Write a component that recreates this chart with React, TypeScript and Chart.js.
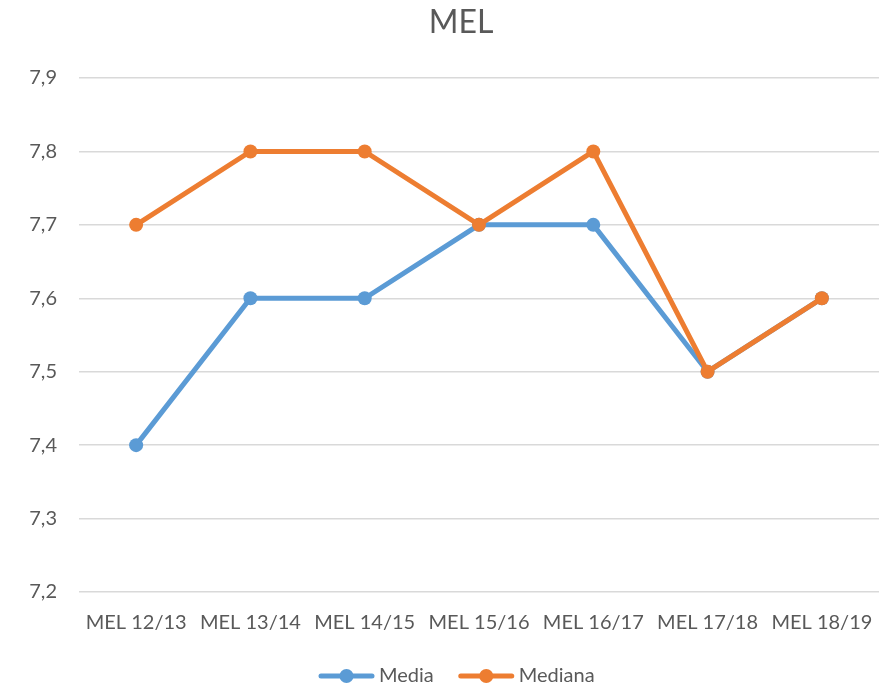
import React, { useEffect, useRef } from "react";
import { Chart, registerables } from "chart.js";

Chart.register(...registerables);

const categories = ["MEL 12/13", "MEL 13/14", "MEL 14/15", "MEL 15/16", "MEL 16/17", "MEL 17/18", "MEL 18/19"];
const mediaValues = [7.4, 7.6, 7.6, 7.7, 7.7, 7.5, 7.6];
const medianaValues = [7.7, 7.8, 7.8, 7.7, 7.8, 7.5, 7.6];
const yMin = 7.2;
const yMax = 7.9;
const yStep = 0.1;
const titleText = "MEL";

const BLUE = "#5B9BD5";
const ORANGE = "#ED7D31";
const TEXT = "#595959";
const FONT = "Lato, 'Open Sans', sans-serif";

const decorations = {
  id: "decorations",
  afterDraw(chart: any) {
    const ctx = chart.ctx;
    ctx.save();
    // title
    ctx.font = `32px ${FONT}`;
    ctx.fillStyle = TEXT;
    ctx.textAlign = "center";
    ctx.textBaseline = "middle";
    ctx.fillText(titleText, 461, 23);
    // legend
    const items = chart.data.datasets.map((ds: any) => ({ text: ds.label, color: ds.borderColor }));
    ctx.font = `20px ${FONT}`;
    const iconW = 55;
    const gapText = 5;
    const gapItem = 25;
    let x = 319;
    const y = 676;
    items.forEach((it: any) => {
      ctx.strokeStyle = it.color;
      ctx.lineWidth = 5;
      ctx.lineCap = "round";
      ctx.beginPath();
      ctx.moveTo(x + 2, y);
      ctx.lineTo(x + iconW - 2, y);
      ctx.stroke();
      ctx.fillStyle = it.color;
      ctx.beginPath();
      ctx.arc(x + iconW / 2, y, 7, 0, Math.PI * 2);
      ctx.fill();
      x += iconW + gapText;
      ctx.fillStyle = TEXT;
      ctx.textBaseline = "middle";
      ctx.textAlign = "left";
      ctx.fillText(it.text, x, y);
      x += ctx.measureText(it.text).width + gapItem;
    });
    ctx.restore();
  },
};

export default function App() {
  const ref = useRef<HTMLCanvasElement>(null);
  useEffect(() => {
    if (!ref.current) return;
    const chart = new Chart(ref.current, {
      type: "line",
      data: {
        labels: categories,
        datasets: [
          {
            label: "Media",
            data: mediaValues,
            borderColor: BLUE,
            backgroundColor: BLUE,
            borderWidth: 5,
            pointRadius: 7,
            pointHoverRadius: 7,
            pointBackgroundColor: BLUE,
            pointBorderWidth: 0,
            tension: 0,
            clip: false,
            order: 1,
          },
          {
            label: "Mediana",
            data: medianaValues,
            borderColor: ORANGE,
            backgroundColor: ORANGE,
            borderWidth: 5,
            pointRadius: 7,
            pointHoverRadius: 7,
            pointBackgroundColor: ORANGE,
            pointBorderWidth: 0,
            tension: 0,
            clip: false,
            order: 0,
          },
        ],
      },
      plugins: [decorations],
      options: {
        animation: false,
        responsive: false,
        layout: { autoPadding: false, padding: { left: 0, right: 0, top: 78, bottom: 0 } },
        elements: { point: { pointStyle: "circle" } },
        plugins: {
          title: { display: false },
          legend: { display: false },
          tooltip: { enabled: false },
        },
        scales: {
          x: {
            offset: true,
            grid: { display: false, drawTicks: false },
            border: { display: false },
            ticks: {
              color: TEXT,
              font: { family: FONT, size: 20 },
              padding: 19,
              maxRotation: 0,
              autoSkip: false,
            },
            afterFit: (scale: any) => {
              scale.height = 95;
              scale.paddingLeft = 0;
              scale.paddingRight = 0;
            },
          },
          y: {
            min: yMin,
            max: yMax,
            grid: { color: "#d9d9d9", lineWidth: 1.5, drawTicks: false },
            border: { display: false },
            ticks: {
              stepSize: yStep,
              color: TEXT,
              font: { family: FONT, size: 20 },
              padding: 22,
              callback: (v: any) => Number(v).toFixed(1).replace(".", ","),
            },
            afterFit: (scale: any) => {
              scale.width = 79;
              scale.paddingTop = 0;
              scale.paddingBottom = 0;
            },
          },
        },
      },
    });
    return () => chart.destroy();
  }, []);
  return (
    <div style={{ position: "absolute", left: 0, top: 0, width: 879, height: 687, background: "#fff" }}>
      <canvas ref={ref} width={879} height={687} style={{ width: 879, height: 687 }} />
    </div>
  );
}
